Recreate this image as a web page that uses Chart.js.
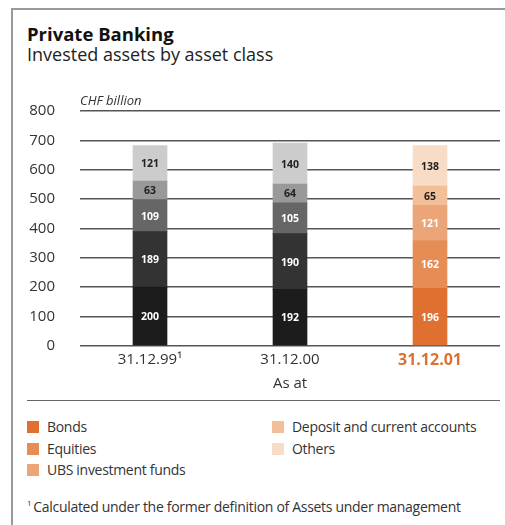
<!DOCTYPE html>
<html>
<head>
<meta charset="utf-8">
<script src="https://cdn.jsdelivr.net/npm/chart.js@4.4.0/dist/chart.umd.min.js"></script>
<style>
  html, body { margin: 0; padding: 0; background: #fff; }
  body { width: 505px; height: 525px; position: relative; overflow: hidden; font-family: "Open Sans", sans-serif; color: #333; }
  .frame { position: absolute; left: 11px; top: 8px; width: 500px; height: 530px; border-top: 2px solid #999; border-left: 2px solid #999; }
  .t1 { position: absolute; left: 27px; top: 21px; font-size: 18.5px; font-weight: bold; color: #111; }
  .t2 { position: absolute; left: 27px; top: 42px; font-size: 18px; color: #222; }
  .unit { position: absolute; left: 80px; top: 91px; font-size: 13px; font-style: italic; color: #333; }
  #wrap { position: absolute; left: 0; top: 0; width: 505px; height: 393px; }
  .rule { position: absolute; left: 27px; top: 400px; width: 473px; height: 1px; background: #666; }
  .leg { position: absolute; font-size: 14px; letter-spacing: -0.3px; color: #333; display: flex; align-items: center; }
  .leg span.sw { display: inline-block; width: 12px; height: 12px; margin-right: 8px; }
  .foot { position: absolute; left: 27px; top: 497px; font-size: 14px; letter-spacing: -0.3px; color: #333; }
  .foot sup { font-size: 8px; vertical-align: 6px; margin-right: 2px; }
</style>
</head>
<body>
<div class="frame"></div>
<div class="t1">Private Banking</div>
<div class="t2">Invested assets by asset class</div>
<div id="wrap"><canvas id="c"></canvas></div>
<div class="unit">CHF billion</div>
<div class="rule"></div>
<div id="legend"></div>
<div class="foot"><sup>1</sup>Calculated under the former definition of Assets under management</div>
<script>
const categories = ["31.12.99\u00b9", "31.12.00", "31.12.01"];
const seriesNames = ["Bonds", "Equities", "UBS investment funds", "Deposit and current accounts", "Others"];
const bonds = [200, 192, 196];
const equities = [189, 190, 162];
const ubsFunds = [109, 105, 121];
const deposits = [63, 64, 65];
const others = [121, 140, 138];
const yTicks = [0, 100, 200, 300, 400, 500, 600, 700, 800];
const xTitle = "As at";

const grays = ["#1c1c1c", "#333333", "#666666", "#999999", "#cccccc"];
const oranges = ["#df7030", "#e68c55", "#eba577", "#f2bf99", "#f8dcc6"];
const labelColors = ["#fff", "#fff", "#fff", "#222", "#222"];
const values = [bonds, equities, ubsFunds, deposits, others];

const datasets = values.map((v, i) => ({
  label: seriesNames[i],
  data: v,
  backgroundColor: [grays[i], grays[i], oranges[i]],
  borderWidth: 0,
  barThickness: 34
}));

// legend (HTML, column-major like reference)
const legPos = [[27, 417], [27, 439], [27, 460], [272, 417], [272, 439]];
const legEl = document.getElementById('legend');
seriesNames.forEach((n, i) => {
  const d = document.createElement('div');
  d.className = 'leg';
  d.style.left = legPos[i][0] + 'px';
  d.style.top = legPos[i][1] + 'px';
  d.innerHTML = '<span class="sw" style="background:' + oranges[i] + '"></span>' + n;
  legEl.appendChild(d);
});

const barLabels = {
  id: 'barLabels',
  afterDatasetsDraw(chart) {
    const ctx = chart.ctx;
    ctx.save();
    ctx.font = 'bold 10.5px "Open Sans"';
    ctx.textAlign = 'center';
    ctx.textBaseline = 'middle';
    chart.data.datasets.forEach((ds, di) => {
      const meta = chart.getDatasetMeta(di);
      meta.data.forEach((bar, j) => {
        const p = bar.getProps(['x', 'y', 'base'], true);
        ctx.fillStyle = labelColors[di];
        ctx.fillText(String(ds.data[j]), p.x, (p.y + p.base) / 2 + 1);
      });
    });
    ctx.restore();
  }
};

new Chart(document.getElementById('c'), {
  type: 'bar',
  data: { labels: categories, datasets },
  plugins: [barLabels],
  options: {
    responsive: true,
    maintainAspectRatio: false,
    animation: false,
    layout: { padding: { top: 111, right: 5, left: 0, bottom: 0 } },
    plugins: { legend: { display: false }, tooltip: { enabled: false } },
    scales: {
      x: {
        stacked: true,
        grid: { display: false, drawTicks: false },
        border: { display: false },
        ticks: {
          padding: 5,
          color: (ctx) => ctx.index === 2 ? '#df7030' : '#333',
          font: (ctx) => ctx.index === 2 ? { family: 'Open Sans', size: 16, weight: 'bold' } : { family: 'Open Sans', size: 15 }
        },
        title: { display: true, text: xTitle, color: '#333', font: { family: 'Open Sans', size: 15 }, padding: { top: 0, bottom: 0 } }
      },
      y: {
        stacked: true,
        min: 0, max: 800,
        afterBuildTicks: (s) => { s.ticks = yTicks.map(v => ({ value: v })); },
        afterFit: (s) => { s.width = 80; },
        grid: { color: '#555', lineWidth: 1.5, drawTicks: false },
        border: { display: false },
        ticks: { padding: 25, color: '#333', font: { family: 'Open Sans', size: 15 } }
      }
    }
  }
});
</script>
</body>
</html>
